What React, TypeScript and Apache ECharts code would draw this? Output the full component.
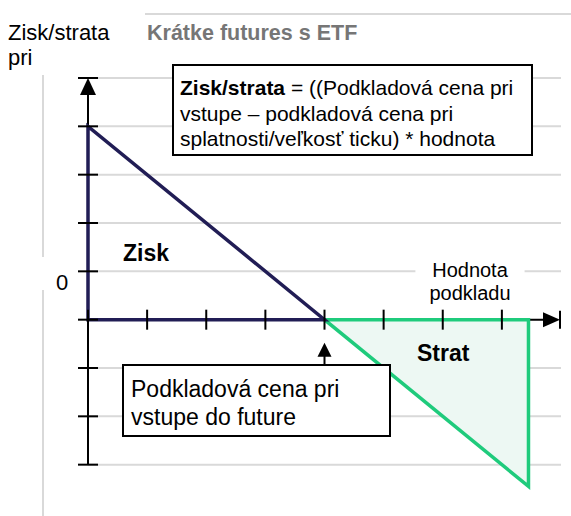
import React, { useEffect, useRef } from "react";
import * as echarts from "echarts";

// ---- data ----
const xTicks = [0, 1, 2, 3, 4, 5, 6, 7];
const yTicks = [-3, -2, -1, 0, 1, 2, 3, 4, 5];
const gridYs = [-3, -2, -1, 1, 2, 3, 4, 5];
const ziskPoints = [
  [0, 4],
  [0, 0],
  [4, 0],
];
const stratPoints = [
  [4, 0],
  [7.45, 0],
  [7.45, -3.45],
];
const entryPoint = [4, 0];
const xMax = 8;
const yMin = -4;
const yMax = 5;

const FONT = '"Liberation Sans", Arial, sans-serif';
const GRAY = "#d9d9d9";
const NAVY = "#211d55";
const GREEN = "#1fcb7c";
const GREEN_FILL = "#edf8f3";

export default function App() {
  const ref = useRef<HTMLDivElement>(null);
  useEffect(() => {
    if (!ref.current) return;
    const chart = echarts.init(ref.current, null, { renderer: "svg" });

    const option: any = {
      animation: false,
      backgroundColor: "#fff",
      grid: { left: 88, right: 10, top: 78, bottom: 3 },
      xAxis: { type: "value", min: 0, max: xMax, show: false },
      yAxis: { type: "value", min: yMin, max: yMax, show: false },
      series: [
        {
          type: "custom",
          z: 1,
          data: gridYs.map((v) => [0, v]),
          encode: { x: 0, y: 1 },
          renderItem: (params: any, api: any) => {
            const y = api.value(1);
            const p1 = api.coord([0, y]);
            const p2 = api.coord([xMax, y]);
            return {
              type: "line",
              shape: { x1: p1[0], y1: p1[1], x2: p2[0], y2: p2[1] },
              style: { stroke: GRAY, lineWidth: 2 },
            };
          },
        },
        {
          type: "custom",
          z: 2,
          data: [[0, 0]],
          encode: { x: 0, y: 1 },
          renderItem: (params: any, api: any) => {
            const yTop = api.coord([0, yTicks[yTicks.length - 1]]);
            const yBot = api.coord([0, yTicks[0]]);
            const o = api.coord([0, 0]);
            const xe = api.coord([xMax, 0]);
            return {
              type: "group",
              children: [
                {
                  type: "line",
                  shape: { x1: yBot[0], y1: yBot[1], x2: yTop[0], y2: yTop[1] + 10 },
                  style: { stroke: "#000", lineWidth: 2 },
                },
                {
                  type: "line",
                  shape: { x1: o[0], y1: o[1], x2: xe[0] - 10, y2: o[1] },
                  style: { stroke: "#000", lineWidth: 2 },
                },
              ],
            };
          },
        },
        {
          type: "custom",
          z: 3,
          data: [[0, 0]],
          encode: { x: 0, y: 1 },
          renderItem: (params: any, api: any) => ({
            type: "polygon",
            shape: { points: stratPoints.map((p) => api.coord(p)) },
            style: { fill: GREEN_FILL, stroke: GREEN, lineWidth: 3.5, lineJoin: "miter" },
          }),
        },
        {
          type: "custom",
          z: 4,
          data: [[0, 0]],
          encode: { x: 0, y: 1 },
          renderItem: (params: any, api: any) => ({
            type: "polygon",
            shape: { points: ziskPoints.map((p) => api.coord(p)) },
            style: { fill: "none", stroke: NAVY, lineWidth: 3.5, lineJoin: "miter" },
          }),
        },
        {
          type: "custom",
          z: 5,
          data: [[0, 0]],
          encode: { x: 0, y: 1 },
          renderItem: (params: any, api: any) => {
            const children: any[] = [];
            yTicks.forEach((v) => {
              const p = api.coord([0, v]);
              children.push({
                type: "line",
                shape: { x1: p[0] - 10, y1: p[1], x2: p[0] + 10, y2: p[1] },
                style: { stroke: "#000", lineWidth: 2 },
              });
            });
            xTicks.forEach((v) => {
              const p = api.coord([v, 0]);
              children.push({
                type: "line",
                shape: { x1: p[0], y1: p[1] - 10, x2: p[0], y2: p[1] + 10 },
                style: { stroke: "#000", lineWidth: 2 },
              });
            });
            const top = api.coord([0, yMax]);
            children.push({
              type: "polygon",
              shape: {
                points: [
                  [top[0], top[1]],
                  [top[0] - 8, top[1] + 17],
                  [top[0] + 8, top[1] + 17],
                ],
              },
              style: { fill: "#000" },
            });
            const xe = api.coord([xMax, 0]);
            children.push({
              type: "polygon",
              shape: {
                points: [
                  [xe[0] - 1, xe[1]],
                  [xe[0] - 18, xe[1] - 7.5],
                  [xe[0] - 18, xe[1] + 7.5],
                ],
              },
              style: { fill: "#000" },
            });
            children.push({
              type: "line",
              shape: { x1: xe[0] - 1, y1: xe[1] - 9, x2: xe[0] - 1, y2: xe[1] + 9 },
              style: { stroke: "#000", lineWidth: 2 },
            });
            // entry-price pointer arrow
            const ep = api.coord(entryPoint);
            children.push({
              type: "polygon",
              shape: {
                points: [
                  [ep[0], ep[1] + 23],
                  [ep[0] - 7, ep[1] + 37],
                  [ep[0] + 7, ep[1] + 37],
                ],
              },
              style: { fill: "#000" },
            });
            children.push({
              type: "line",
              shape: { x1: ep[0], y1: ep[1] + 36, x2: ep[0], y2: ep[1] + 45 },
              style: { stroke: "#000", lineWidth: 2 },
            });
            return { type: "group", children };
          },
        },
      ],
      graphic: [
        { type: "line", shape: { x1: 145, y1: 14, x2: 571, y2: 14 }, style: { stroke: GRAY, lineWidth: 2 }, z: 1 },
        { type: "line", shape: { x1: 43, y1: 75, x2: 43, y2: 257 }, style: { stroke: GRAY, lineWidth: 2 }, z: 1 },
        { type: "line", shape: { x1: 43, y1: 290, x2: 43, y2: 516 }, style: { stroke: GRAY, lineWidth: 2 }, z: 1 },
        {
          type: "text",
          x: 8,
          y: 20,
          z: 10,
          style: { text: "Zisk/strata\npri", font: `22px ${FONT}`, fill: "#000", lineHeight: 25 },
        },
        {
          type: "text",
          x: 147,
          y: 22,
          z: 10,
          style: { text: "Krátke futures s ETF", font: `bold 21.5px ${FONT}`, fill: "#767676" },
        },
        {
          type: "rect",
          z: 10,
          shape: { x: 173, y: 65, width: 359, height: 90 },
          style: { fill: "#fff", stroke: "#000", lineWidth: 2 },
        },
        {
          type: "text",
          x: 180,
          y: 75,
          z: 11,
          style: {
            text: "{b|Zisk/strata} = ((Podkladová cena pri\nvstupe – podkladová cena pri\nsplatnosti/veľkosť ticku) * hodnota",
            font: `21px ${FONT}`,
            fill: "#000",
            lineHeight: 25.5,
            rich: {
              b: { font: `bold 21px ${FONT}`, fill: "#000", lineHeight: 25.5 },
            },
          },
        },
        {
          type: "rect",
          z: 10,
          shape: { x: 123, y: 365, width: 267, height: 71 },
          style: { fill: "#fff", stroke: "#000", lineWidth: 2 },
        },
        {
          type: "text",
          x: 131,
          y: 375,
          z: 11,
          style: {
            text: "Podkladová cena pri\nvstupe do future",
            font: `23px ${FONT}`,
            fill: "#000",
            lineHeight: 28,
          },
        },
        {
          type: "text",
          x: 123,
          y: 241,
          z: 10,
          style: { text: "Zisk", font: `bold 23px ${FONT}`, fill: "#000" },
        },
        {
          type: "text",
          x: 417,
          y: 341,
          z: 10,
          style: { text: "Strat", font: `bold 23px ${FONT}`, fill: "#000" },
        },
        {
          type: "text",
          x: 470,
          y: 258,
          z: 10,
          style: {
            text: "Hodnota\npodkladu",
            font: `20px ${FONT}`,
            fill: "#000",
            align: "center",
            lineHeight: 23,
            backgroundColor: "#fff",
            padding: [0, 14, 0, 14],
          },
        },
        {
          type: "text",
          x: 56,
          y: 271,
          z: 10,
          style: { text: "0", font: `22px ${FONT}`, fill: "#000" },
        },
      ],
    };
    chart.setOption(option);
    return () => chart.dispose();
  }, []);
  return (
    <div
      ref={ref}
      style={{ position: "fixed", left: 0, top: 0, width: 571, height: 516 }}
    />
  );
}
